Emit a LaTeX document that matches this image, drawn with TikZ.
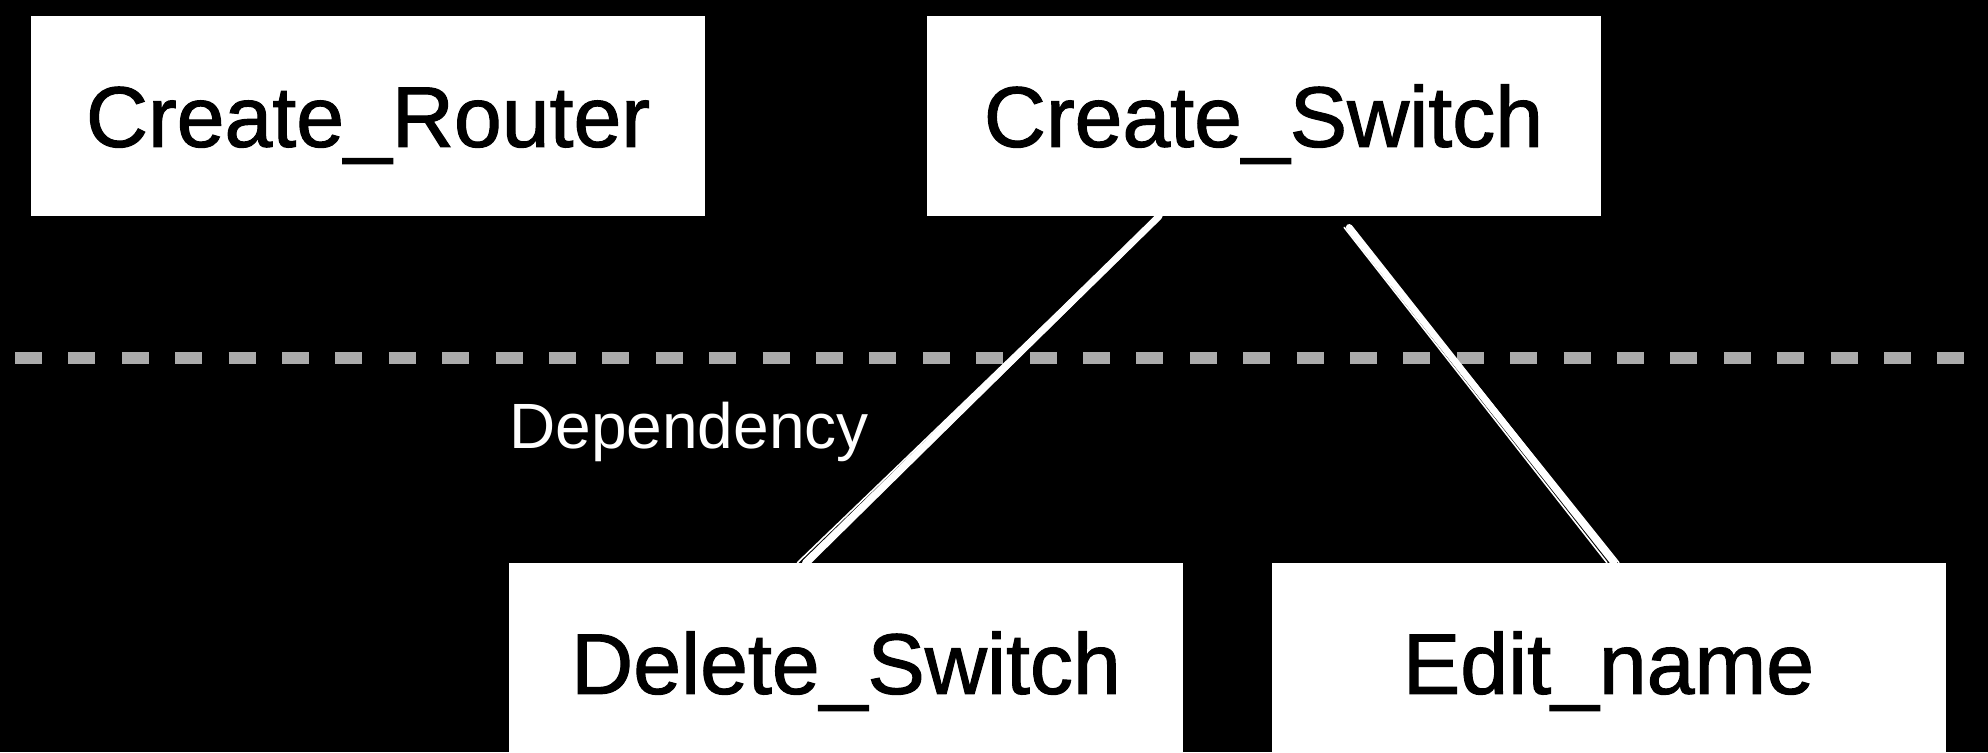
\documentclass[tikz,border=0pt]{standalone}
\usepackage{fontspec}
\setmainfont{Liberation Sans}
\newfontfamily\boxfont[FakeBold=1.3]{Liberation Sans}
\usetikzlibrary{calc}
\definecolor{sepgray}{HTML}{ABABAB}
\begin{document}
\begin{tikzpicture}[x=0.5pt,y=-0.5pt,
  box/.style={fill=white, minimum width=337pt, minimum height=100pt, inner sep=0pt,
    text height=30.8pt, text depth=0pt, font=\boxfont\fontsize{43}{50}\selectfont, text=black},
  link/.style={draw=white, line width=3.4pt, line cap=round},
  sketch/.style={draw=white, line width=0.8pt, line cap=round},
  sepline/.style={draw=sepgray, line width=6.3pt, dash pattern=on 13.5pt off 13.2pt},
  lbl/.style={text=white, inner sep=0pt, anchor=base west, font=\fontsize{32}{38}\selectfont}]
\useasboundingbox (0,0) rectangle (1988,752);
\fill[black] (0,0) rectangle (1988,752);
\clip (0,0) rectangle (1988,752);

\node[box] (cr) at (368,116) {Create\_Router};
\node[box] (cs) at (1263.5,116) {Create\_Switch};
\node[box] (ds) at (846,663) {Delete\_Switch};
\node[box] (en) at (1608.5,663) {Edit\_name};

\coordinate (sepL) at (15,358);
\coordinate (sepR) at (1975,358);
\draw[sepline] (sepL) -- (sepR);

\node[lbl] (dep) at (509,448) {Dependency};

\coordinate (a1) at ($(cs.south west)!0.345!(cs.south east)$);
\coordinate (a2) at ($(ds.north west)!0.44!(ds.north east)$);
\coordinate (b1) at ($(cs.south west)!0.627!(cs.south east)+(0,11)$);
\coordinate (b2) at ($(en.north west)!0.508!(en.north east)$);
\draw[link] (a1) -- (a2);
\draw[link] (b1) -- (b2);
\draw[sketch] ($(a1)+(-5,3)$) -- ($(a2)+(-8,0)$);
\draw[sketch] ($(a1)+(3,0)$) -- ($(a2)+(5,0)$);
\draw[sketch] ($(b1)+(-5,0)$) -- ($(b2)+(-7,0)$);
\draw[sketch] ($(b1)+(3,2)$) -- ($(b2)+(5,0)$);
\end{tikzpicture}
\end{document}
